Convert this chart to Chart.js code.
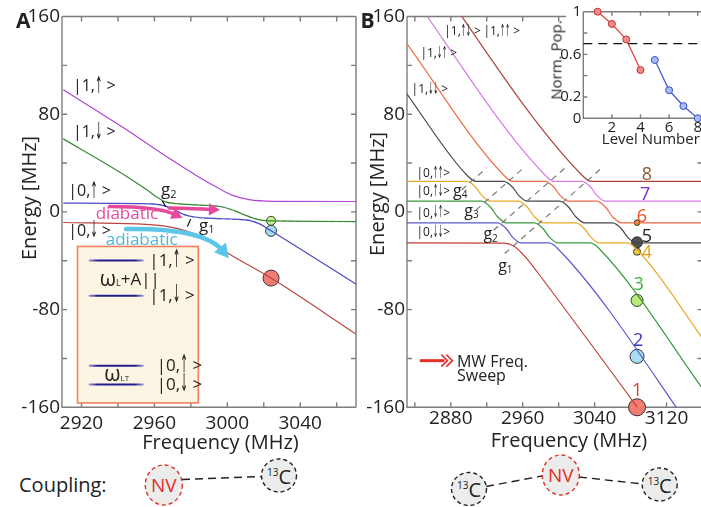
<!DOCTYPE html>
<html><head><meta charset="utf-8">
<script src="https://cdn.jsdelivr.net/npm/chart.js@4.4.1/dist/chart.umd.min.js"></script>
<style>
html,body{margin:0;padding:0;width:701px;height:507px;overflow:hidden;background:#fff;font-family:'Open Sans','Liberation Sans',sans-serif;}
canvas{position:absolute;}
svg{position:absolute;left:0;top:0;}
.t{position:absolute;white-space:nowrap;line-height:1;color:#222;}
</style></head><body>
<svg width="701" height="507" id="sv"></svg>
<canvas id="cA" width="365" height="455" style="left:0;top:0;width:365px;height:455px"></canvas>
<canvas id="cB" width="362" height="455" style="left:350px;top:0;width:362px;height:455px"></canvas>
<canvas id="cI" width="170" height="146" style="left:548px;top:0;width:170px;height:146px"></canvas>
<script>
// ================= DATA =================
// Panel A : energy (MHz) vs MW frequency (MHz)
const aPurpleF = [2910, 2942, 2970, 2985, 2995, 3003, 3012, 3025, 3071];
const aPurpleE = [100, 69.9, 42, 28, 19.5, 13.5, 10, 8.7, 8.5];
const aGreenF  = [2910, 2942, 2955, 2962, 2966, 2972, 2985, 2996, 3002, 3008, 3015, 3021, 3071];
const aGreenE  = [59.8, 31.7, 19, 11.5, 8.2, 6.8, 5.6, 4.4, 2, -1.5, -5.5, -7.2, -7.9];
const aBlueF   = [2910, 2958, 2964, 2970, 2976, 2982, 2992, 3004, 3012, 3018, 3024, 3071];
const aBlueE   = [7.2, 6.6, 5.6, 2.5, -2, -4.2, -5.3, -6, -7, -10, -15.4, -59.5];
const aRedF    = [2910, 2950, 2965, 2975, 2985, 2995, 3005, 3024, 3071];
const aRedE    = [-8.7, -9.8, -11.5, -14.5, -20, -29, -38, -54.2, -100.5];
const aDotF    = [3024, 3024, 3024];
const aDotE    = [-7.3, -15.5, -54.2];
const aXTicks  = [2920, 2940, 2960, 2980, 3000, 3020, 3040, 3060];
const aXLabels = [2920, 2960, 3000, 3040];
const yTicks   = [-160, -120, -80, -40, 0, 40, 80, 120, 160];
const yLabels  = [-160, -80, 0, 80, 160];

// Panel B : eight adiabatic levels (1 = lowest)
const b1F = [2826, 2940, 2950, 2958, 2966, 2976, 3170];
const b1E = [-25.4, -25.6, -28, -33, -39.5, -49, -243];
const b2F = [2826, 2932, 2942, 2948.4, 2958.4, 2989.4, 2999.4, 3170];
const b2E = [-9, -9, -14, -20.4, -25.4, -25.4, -30.4, -201];
const b3F = [2826, 2914.2, 2924.2, 2932, 2942, 2973, 2983, 2989.4, 2999.4, 3035.4, 3045.4, 3170];
const b3E = [8.8, 8.8, 3.8, -4, -9, -9, -14, -20.4, -25.4, -25.4, -30.4, -155];
const b4F = [2826, 2898, 2908, 2914.2, 2924.2, 2955.2, 2965.2, 2973, 2983, 3019, 3029, 3035.4, 3045.4, 3076.4, 3086.4, 3170];
const b4E = [25, 25, 20, 13.8, 8.8, 8.8, 3.8, -4, -9, -9, -14, -20.4, -25.4, -25.4, -30.4, -114];
const b5F = [2826, 2898, 2908, 2939, 2949, 2955.2, 2965.2, 3001.2, 3011.2, 3019, 3029, 3060, 3070, 3076.4, 3086.4, 3170];
const b5E = [102, 30, 25, 25, 20, 13.8, 8.8, 8.8, 3.8, -4, -9, -9, -14, -20.4, -25.4, -25.4];
const b6F = [2826, 2939, 2949, 2985, 2995, 3001.2, 3011.2, 3042.2, 3052.2, 3060, 3070, 3170];
const b6E = [143, 30, 25, 25, 20, 13.8, 8.8, 8.8, 3.8, -4, -9, -9];
const b7F = [2826, 2985, 2995, 3026, 3036, 3042.2, 3052.2, 3170];
const b7E = [189, 30, 25, 25, 20, 13.8, 8.8, 8.8];
const b8F = [2826, 3026, 3036, 3170];
const b8E = [230, 30, 25, 25];
// gap guide lines g1..g4 (dashed)
const gF = [[2940, 3048], [2927.6, 3007], [2908, 2961], [2892, 2920]];
const gE = [[-34.1, 36.0], [-15.0, 35.9], [1.5, 36.1], [17.9, 36.1]];
// final-level markers
const bDotF = [3087.2, 3087.2, 3087.2, 3087.2, 3087.2, 3087.2];
const bDotE = [-160, -118.3, -72.5, -32.6, -24.9, -8.8];
const bXTicks  = [2840, 2880, 2920, 2960, 3000, 3040, 3080, 3120, 3160];
const bXLabels = [2880, 2960, 3040, 3120];

// Inset: normalized population vs level number
const levelsLow  = [1, 2, 3, 4];
const popLow     = [1.0, 0.885, 0.74, 0.453];
const levelsHigh = [5, 6, 7, 8];
const popHigh    = [0.547, 0.263, 0.115, 0.0];
const threshold  = 0.7;

// ================= HELPERS =================
const FONT = "'Open Sans','Liberation Sans',sans-serif";
const AFONT = "'DejaVu Sans','Liberation Sans',sans-serif";
const pts = (F, E) => F.map((f, i) => ({x: f, y: E[i]}));
function ln(F, E, color, w, extra) {
  return Object.assign({data: pts(F, E), borderColor: color, borderWidth: w, pointRadius: 0,
    cubicInterpolationMode: 'monotone', fill: false}, extra || {});
}
const framePlugin = {
  id: 'frame',
  beforeDraw(chart, args, o) {
    if (o.bg) { const ctx = chart.ctx; ctx.save(); ctx.fillStyle = '#fff';
      ctx.fillRect(o.bg, 0, chart.width - o.bg, chart.height); ctx.restore(); }
  },
  beforeDatasetsDraw(chart, args, o) {
    const {ctx, chartArea: a, scales: {x, y}} = chart;
    ctx.save();
    ctx.strokeStyle = '#7d7d7d'; ctx.lineWidth = 1.4;
    ctx.beginPath();
    ctx.moveTo(a.left, a.top); ctx.lineTo(a.right, a.top);
    ctx.moveTo(a.left, a.top); ctx.lineTo(a.left, a.bottom); ctx.lineTo(a.right, a.bottom);
    ctx.moveTo(a.right, a.top); ctx.lineTo(a.right, a.bottom);
    const L = o.len || 5;
    x.ticks.forEach(t => { const p = x.getPixelForValue(t.value);
      ctx.moveTo(p, a.bottom); ctx.lineTo(p, a.bottom - L); ctx.moveTo(p, a.top); ctx.lineTo(p, a.top + L); });
    y.ticks.forEach(t => { const p = y.getPixelForValue(t.value);
      ctx.moveTo(a.left, p); ctx.lineTo(a.left + L, p); ctx.moveTo(a.right, p); ctx.lineTo(a.right - L, p); });
    ctx.stroke(); ctx.restore();
  }
};
// draw a text piece; optional horizontal / vertical stretch (sx, sy) and font family
function piece(ctx, s, x, y, size, color, sx, sy, fam) {
  ctx.font = size + 'px ' + (fam || FONT); ctx.fillStyle = color || '#222';
  ctx.textAlign = 'left'; ctx.textBaseline = 'middle';
  const w = ctx.measureText(s).width;
  if (sx || sy) { ctx.save(); ctx.translate(x, y); ctx.scale(sx || 1, sy || 1); ctx.fillText(s, 0, 0); ctx.restore(); return w * (sx || 1); }
  ctx.fillText(s, x, y); return w;
}
function txt(ctx, s, x, y, size, color, align) {
  ctx.font = size + 'px ' + FONT; ctx.fillStyle = color || '#222';
  ctx.textAlign = align || 'left'; ctx.textBaseline = 'middle'; ctx.fillText(s, x, y);
}
function rich(ctx, parts, x, y, color) {
  let cx = x;
  parts.forEach(p => { cx += piece(ctx, p[0], cx, y + (p[2] || 0), p[1], p[3] || color, p[4], p[5], p[6]); });
}
// ket |n, arrows >  (arrows drawn as tall narrow glyphs)
function ket(ctx, pre, arrows, post, x, y, size, sx, sy) {
  rich(ctx, [[pre, size], [arrows, size, 0, null, sx, sy, AFONT], [post, size]], x, y, '#222');
}
function arrow(ctx, p0, c, p1, color, w, head) {
  const ang = Math.atan2(p1[1] - c[1], p1[0] - c[0]);
  const ex = p1[0] - Math.cos(ang) * head * 0.7, ey = p1[1] - Math.sin(ang) * head * 0.7;
  ctx.strokeStyle = color; ctx.lineWidth = w; ctx.lineCap = 'round';
  ctx.beginPath(); ctx.moveTo(p0[0], p0[1]); ctx.quadraticCurveTo(c[0], c[1], ex, ey); ctx.stroke();
  ctx.fillStyle = color; ctx.beginPath(); ctx.moveTo(p1[0], p1[1]);
  const bx = p1[0] - Math.cos(ang) * head, by = p1[1] - Math.sin(ang) * head;
  ctx.lineTo(bx + Math.cos(ang + Math.PI / 2) * head * 0.55, by + Math.sin(ang + Math.PI / 2) * head * 0.55);
  ctx.lineTo(bx - Math.cos(ang + Math.PI / 2) * head * 0.55, by - Math.sin(ang + Math.PI / 2) * head * 0.55);
  ctx.closePath(); ctx.fill();
}
function levelLine(ctx, x0, x1, y) {
  const g = ctx.createLinearGradient(x0, 0, x1, 0);
  g.addColorStop(0, 'rgba(40,40,160,0.5)'); g.addColorStop(0.15, '#20208c');
  g.addColorStop(0.85, '#20208c'); g.addColorStop(1, 'rgba(40,40,160,0.5)');
  ctx.strokeStyle = g; ctx.lineWidth = 2; ctx.beginPath(); ctx.moveTo(x0, y); ctx.lineTo(x1, y); ctx.stroke();
}
function baseScales(xmin, xmax, xt, xl, yw, xh, xpad, ypad) {
  const font = {family: FONT, size: 19};
  return {
    x: {type: 'linear', min: xmin, max: xmax,
      afterBuildTicks: s => { s.ticks = xt.map(v => ({value: v})); },
      afterFit: s => { s.height = xh; },
      ticks: {autoSkip: false, maxRotation: 0, padding: xpad, color: '#222', font,
        callback: v => xl.includes(v) ? String(v) : ''},
      grid: {display: false, drawTicks: false}, border: {display: false}},
    y: {type: 'linear', min: -160, max: 160,
      afterBuildTicks: s => { s.ticks = yTicks.map(v => ({value: v})); },
      afterFit: s => { s.width = yw; },
      ticks: {autoSkip: false, padding: ypad, color: '#222', font,
        callback: v => yLabels.includes(v) ? String(v) : ''},
      grid: {display: false, drawTicks: false}, border: {display: false}}
  };
}
const common = {responsive: false, animation: false, devicePixelRatio: 1,
  elements: {line: {capBezierPoints: false}},
  plugins: {legend: {display: false}, tooltip: {enabled: false}}};

// ================= PANEL A =================
const annotA = {
  id: 'annotA',
  afterDatasetsDraw(chart) {
    const ctx = chart.ctx, X = v => chart.scales.x.getPixelForValue(v), Y = v => chart.scales.y.getPixelForValue(v);
    ctx.save();
    // kets
    ket(ctx, '|1,', '\u2191', ' >', X(2915.3), Y(102.6), 16, 0.55, 1.45);
    ket(ctx, '|1,', '\u2193', ' >', X(2915.3), Y(64.7), 16, 0.55, 1.45);
    ket(ctx, '|0,', '\u2191', ' >', X(2912.7), Y(16.7), 16, 0.55, 1.45);
    ket(ctx, '|0,', '\u2193', ' >', X(2912.7), Y(-16), 16, 0.55, 1.45);
    // gaps
    ctx.strokeStyle = '#111'; ctx.lineWidth = 1.2;
    ctx.beginPath(); ctx.moveTo(X(2964.3), Y(9)); ctx.lineTo(X(2966.3), Y(4.2));
    ctx.moveTo(X(2978.1), Y(-12)); ctx.lineTo(X(2979.9), Y(-5.8)); ctx.stroke();
    rich(ctx, [['g', 17], ['2', 11, 4]], X(2963.6), Y(17.5), '#222');
    rich(ctx, [['g', 17], ['1', 11, 4]], X(2984.5), Y(-11.5), '#222');
    // diabatic / adiabatic
    txt(ctx, 'diabatic', X(2927.8), Y(-2.2), 17, '#e6489c');
    txt(ctx, 'adiabatic', X(2933.3), Y(-22.8), 17, '#49b9e3');
    arrow(ctx, [X(2935.4), Y(4.4)], [X(2962.7), Y(4.2)], [X(2975.4), Y(-5)], '#e6489c', 3.5, 11);
    arrow(ctx, [X(2968.1), Y(3.1)], [X(2982), Y(2.5)], [X(2996), Y(1.7)], '#e6489c', 3.5, 11);
    arrow(ctx, [X(2944.5), Y(-14.1)], [X(2987.2), Y(-13)], [X(3000.8), Y(-38)], '#5cc6e8', 4.5, 14);
    // level-diagram box
    const x0 = X(2917.8), x1 = X(2984.1), y0 = Y(-28.3), y1 = Y(-156.4);
    ctx.fillStyle = '#fcf5e3'; ctx.fillRect(x0, y0, x1 - x0, y1 - y0);
    ctx.strokeStyle = '#f0805c'; ctx.lineWidth = 1.6; ctx.strokeRect(x0, y0, x1 - x0, y1 - y0);
    levelLine(ctx, X(2924.5), X(2953.6), Y(-39.8));
    levelLine(ctx, X(2924.5), X(2953.6), Y(-68.6));
    levelLine(ctx, X(2924.5), X(2953.6), Y(-125.9));
    levelLine(ctx, X(2924.5), X(2953.6), Y(-141.4));
    ket(ctx, '|1,', '\u2191', ' >', X(2957.2), Y(-40), 17, 0.55, 1.45);
    ket(ctx, '|1,', '\u2193', ' >', X(2957.2), Y(-68.8), 17, 0.55, 1.45);
    ket(ctx, '|0,', '\u2191', ' >', X(2961.3), Y(-126), 17, 0.55, 1.45);
    ket(ctx, '|0,', '\u2193', ' >', X(2961.3), Y(-141.5), 17, 0.55, 1.45);
    rich(ctx, [['\u03c9', 21], ['L', 9, 4], ['+A||', 17]], X(2930), Y(-55.5), '#222');
    rich(ctx, [['\u03c9', 21], ['LT', 8, 4]], X(2932.5), Y(-133.3), '#222');
    ctx.restore();
  }
};
new Chart(document.getElementById('cA'), {
  type: 'line',
  data: {datasets: [
    ln(aPurpleF, aPurpleE, '#b046d6', 1.2),
    ln(aGreenF, aGreenE, '#3b8a3b', 1.2),
    ln(aBlueF, aBlueE, '#4a4ac4', 1.2),
    ln(aRedF, aRedE, '#bc4540', 1.2),
    ln(aGreenF.slice(4), aGreenE.slice(4), '#a6d2a6', 1.3, {borderDash: [4, 3]}),
    ln(aBlueF.slice(1, 10), aBlueE.slice(1, 10), '#a0a0e6', 1.3, {borderDash: [4, 3]}),
    {data: pts(aDotF, aDotE), showLine: false, clip: false, pointRadius: [4.5, 5.5, 8],
      pointBackgroundColor: ['#c3f08a', '#a6dcec', '#f07c72'], pointBorderColor: '#3a3a3a', pointBorderWidth: 1}
  ]},
  options: Object.assign({}, common, {
    layout: {padding: {left: 0, top: 16.5, right: 7, bottom: 0}},
    scales: baseScales(2909.3, 3070.6, aXTicks, aXLabels, 62, 47.7, 4.5, 2),
    plugins: Object.assign({}, common.plugins, {frame: {len: 5}})
  }),
  plugins: [framePlugin, annotA]
});

// ================= PANEL B =================
const annotB = {
  id: 'annotB',
  afterDatasetsDraw(chart) {
    const ctx = chart.ctx, X = v => chart.scales.x.getPixelForValue(v), Y = v => chart.scales.y.getPixelForValue(v);
    ctx.save();
    ket(ctx, '|1,', '\u2191\u2193', ' >', X(2872.7), Y(147.6), 12, 0.5, 1.4);
    ket(ctx, '|1,', '\u2191\u2191', ' >', X(2916.3), Y(147.6), 12, 0.5, 1.4);
    ket(ctx, '|1,', '\u2193\u2191', ' >', X(2846.2), Y(129.9), 12, 0.5, 1.4);
    ket(ctx, '|1,', '\u2193\u2193', ' >', X(2836.4), Y(99.9), 12, 0.5, 1.4);
    ket(ctx, '|0,', '\u2191\u2191', '>', X(2841.9), Y(31.7), 12, 0.5, 1.4);
    ket(ctx, '|0,', '\u2191\u2193', '>', X(2841.9), Y(16.7), 12, 0.5, 1.4);
    ket(ctx, '|0,', '\u2193\u2191', '>', X(2841.9), Y(-1), 12, 0.5, 1.4);
    ket(ctx, '|0,', '\u2193\u2193', '>', X(2841.9), Y(-17.3), 12, 0.5, 1.4);
    rich(ctx, [['g', 16], ['4', 10, 4]], X(2882.5), Y(16.7), '#222');
    rich(ctx, [['g', 16], ['3', 10, 4]], X(2895), Y(0.3), '#222');
    rich(ctx, [['g', 16], ['2', 10, 4]], X(2916.3), Y(-18.7), '#222');
    rich(ctx, [['g', 16], ['1', 10, 4]], X(2932.7), Y(-44.7), '#222');
    const nums = [['8', 3098.1, 30.3, '#8c5a2e'], ['7', 3096.3, 14, '#7a28d8'], ['6', 3092.7, -3.8, '#f05028'],
      ['5', 3098.1, -20.1, '#222'], ['4', 3098.1, -33.2, '#e8a020'], ['3', 3089, -59.6, '#3cb43c'],
      ['2', 3088.3, -106, '#3838b8'], ['1', 3087.2, -146.9, '#e03838']];
    nums.forEach(n => txt(ctx, n[0], X(n[1]), Y(n[2]), 18, n[3], 'center'));
    // MW sweep arrow
    const ay = Y(-121.8), ax0 = X(2845.5), ax1 = X(2881.8);
    ctx.strokeStyle = '#e8302a'; ctx.lineWidth = 3;
    ctx.beginPath(); ctx.moveTo(ax0, ay); ctx.lineTo(ax1 - 8, ay); ctx.stroke();
    ctx.lineWidth = 1.6;
    ctx.beginPath();
    ctx.moveTo(ax1 - 11, ay - 6); ctx.lineTo(ax1 - 5, ay); ctx.lineTo(ax1 - 11, ay + 6);
    ctx.moveTo(ax1 - 6, ay - 6); ctx.lineTo(ax1, ay); ctx.lineTo(ax1 - 6, ay + 6);
    ctx.stroke();
    txt(ctx, 'MW Freq.', X(2886.9), Y(-123.2), 16);
    txt(ctx, 'Sweep', X(2886.9), Y(-134.6), 16);
    ctx.restore();
  }
};
const bCols = ['#c0403a', '#5a5ad0', '#3c9a3c', '#e8aa22', '#474747', '#f06a48', '#d47ce2', '#a8453c'];
const bF = [b1F, b2F, b3F, b4F, b5F, b6F, b7F, b8F], bE = [b1E, b2E, b3E, b4E, b5E, b6E, b7E, b8E];
const bSets = [];
gF.forEach((f, i) => bSets.push(ln(f, gE[i], '#7a7a7a', 1.2, {borderDash: [6, 5], cubicInterpolationMode: 'default', tension: 0})));
bF.forEach((f, i) => bSets.push(ln(f, bE[i], bCols[i], 1.2)));
bSets.push({data: pts(bDotF, bDotE), showLine: false, clip: false, pointRadius: [8.5, 7, 6, 3.5, 5.5, 2.8],
  pointBackgroundColor: ['#f07c72', '#a8dcf0', '#b8ec78', '#f0d040', '#505050', '#e0a040'],
  pointBorderColor: '#333', pointBorderWidth: 1});
new Chart(document.getElementById('cB'), {
  type: 'line',
  data: {datasets: bSets},
  options: Object.assign({}, common, {
    layout: {padding: {left: 0, top: 16.5, right: 3.6, bottom: 0}},
    scales: baseScales(2831.3, 3160, bXTicks, bXLabels, 57, 47.7, 0, 2),
    plugins: Object.assign({}, common.plugins, {frame: {len: 5}})
  }),
  plugins: [framePlugin, annotB]
});

// ================= INSET =================
const fI = {family: FONT, size: 15};
new Chart(document.getElementById('cI'), {
  type: 'line',
  data: {datasets: [
    {data: [{x: 0, y: threshold}, {x: 9, y: threshold}], borderColor: '#111', borderWidth: 1.3, borderDash: [9, 6], pointRadius: 0},
    {data: pts(levelsLow, popLow), borderColor: '#e04848', borderWidth: 1.3, pointRadius: 3.5,
      pointBackgroundColor: '#f08a8a', pointBorderColor: '#c83030', pointBorderWidth: 1, clip: false},
    {data: pts(levelsHigh, popHigh), borderColor: '#4a5ed0', borderWidth: 1.3, pointRadius: 3.5,
      pointBackgroundColor: '#a8bef2', pointBorderColor: '#3a4ec0', pointBorderWidth: 1, clip: false}
  ]},
  options: Object.assign({}, common, {
    layout: {padding: {left: 0, top: 11.7, right: 6, bottom: 0}},
    scales: {
      x: {type: 'linear', min: 0, max: 9,
        afterBuildTicks: s => { s.ticks = [0, 2, 4, 6, 8].map(v => ({value: v})); },
        afterFit: s => { s.height = 27.7; },
        ticks: {autoSkip: false, maxRotation: 0, padding: 0, color: '#222', font: fI, callback: v => v === 0 ? '' : String(v)},
        grid: {display: false, drawTicks: false}, border: {display: false}},
      y: {type: 'linear', min: 0, max: 1,
        afterBuildTicks: s => { s.ticks = [0, 0.2, 0.4, 0.6, 0.8, 1].map(v => ({value: v})); },
        afterFit: s => { s.width = 35.3; },
        ticks: {autoSkip: false, padding: 2, color: '#222', font: fI,
          callback: v => { const k = Math.round(v * 10); return k === 0 ? '0' : k === 2 ? '0.2' : k === 6 ? '0.6' : k === 10 ? '1' : ''; }},
        grid: {display: false, drawTicks: false}, border: {display: false}}
    },
    plugins: Object.assign({}, common.plugins, {frame: {len: 4, bg: 18}})
  }),
  plugins: [framePlugin]
});

// ================= HTML TEXT & COUPLING =================
function addText(html, cx, cy, size, o) {
  o = o || {};
  const d = document.createElement('div'); d.className = 't'; d.innerHTML = html;
  d.style.left = cx + 'px'; d.style.top = cy + 'px'; d.style.fontSize = size + 'px';
  d.style.transform = o.left ? 'translate(0,-50%)' : ('translate(-50%,-50%)' + (o.rot ? ' rotate(-90deg)' : ''));
  if (o.color) d.style.color = o.color;
  if (o.bold) d.style.fontWeight = 'bold';
  document.body.appendChild(d);
}
addText('A', 23.3, 20, 21, {bold: true});
addText('B', 367.5, 20, 21, {bold: true});
addText('Energy [MHz]', 29, 198, 20, {rot: true});
addText('Energy [MHz]', 377, 194, 20, {rot: true});
addText('Frequency (MHz)', 220.5, 441.7, 20);
addText('Frequency (MHz)', 569, 440, 20);
addText('Norm. Pop.', 556, 60, 15, {rot: true});
addText('Level Number', 650.8, 138, 15);
addText('Coupling:', 19, 485, 20, {left: true});

const sv = document.getElementById('sv');
function el(tag, attrs) {
  const e = document.createElementNS('http://www.w3.org/2000/svg', tag);
  for (const k in attrs) e.setAttribute(k, attrs[k]); sv.appendChild(e);
}
function link(x1, y1, x2, y2) { el('line', {x1, y1, x2, y2, stroke: '#222', 'stroke-width': 1.4, 'stroke-dasharray': '8 5'}); }
function nv(cx, cy) {
  el('ellipse', {cx, cy, rx: 18.5, ry: 20, fill: '#ececec', stroke: '#e0302a', 'stroke-width': 1.4, 'stroke-dasharray': '4 3'});
  addText('NV', cx, cy, 19, {color: '#e0302a'});
}
function c13(cx, cy) {
  el('ellipse', {cx, cy, rx: 17.5, ry: 16.5, fill: '#ececec', stroke: '#222', 'stroke-width': 1.4, 'stroke-dasharray': '4 3'});
  addText('<span style="font-size:10px;vertical-align:8px">13</span>C', cx, cy + 1, 20);
}
link(182, 479.5, 262, 476.5);
nv(163.8, 485); c13(279, 475.5);
link(486, 486.5, 542, 476); link(579, 477, 643, 484);
c13(469, 489); nv(560.8, 475); c13(659.7, 484.5);
</script>
</body></html>
